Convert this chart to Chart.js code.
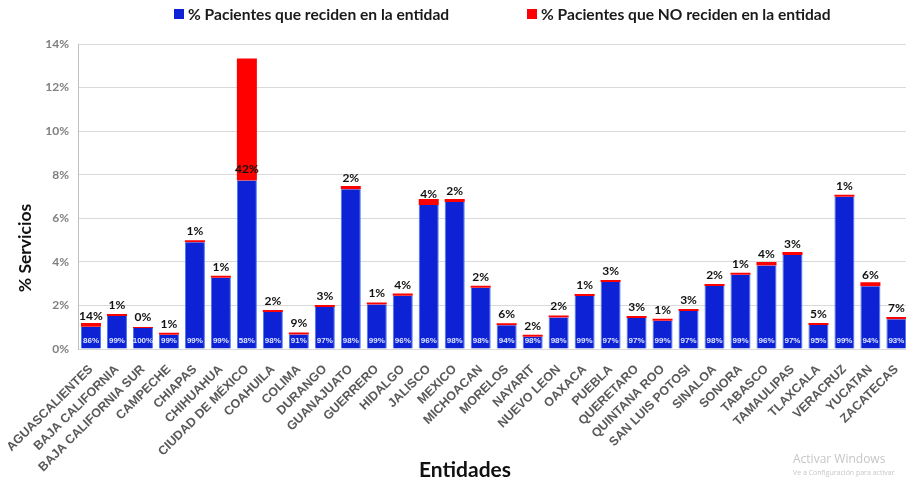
<!DOCTYPE html>
<html>
<head>
<meta charset="utf-8">
<script src="https://cdn.jsdelivr.net/npm/chart.js@4/dist/chart.umd.min.js"></script>
<style>
  html, body { margin: 0; padding: 0; background: #ffffff; overflow: hidden; }
  #wrap { width: 912px; height: 483px; }
</style>
</head>
<body>
<div id="wrap"><canvas id="grafica" width="912" height="483"></canvas></div>
<script>
// Entidades federativas
const entidades = [
  "AGUASCALIENTES", "BAJA CALIFORNIA", "BAJA CALIFORNIA SUR", "CAMPECHE", "CHIAPAS",
  "CHIHUAHUA", "CIUDAD DE MÉXICO", "COAHUILA", "COLIMA", "DURANGO", "GUANAJUATO",
  "GUERRERO", "HIDALGO", "JALISCO", "MEXICO", "MICHOACAN", "MORELOS", "NAYARIT",
  "NUEVO LEON", "OAXACA", "PUEBLA", "QUERETARO", "QUINTANA ROO", "SAN LUIS POTOSI",
  "SINALOA", "SONORA", "TABASCO", "TAMAULIPAS", "TLAXCALA", "VERACRUZ", "YUCATAN", "ZACATECAS"
];

// % de servicios otorgados en cada entidad (altura total de la barra)
const servicios = [
  1.19, 1.53, 0.96, 0.66, 4.95, 3.30, 13.33, 1.73, 0.73, 1.99, 7.48,
  2.06, 2.55, 6.88, 6.88, 2.87, 1.16, 0.57, 1.47, 2.46, 3.17, 1.47,
  1.31, 1.80, 2.95, 3.44, 3.99, 4.45, 1.16, 7.06, 3.06, 1.47
];

// % de pacientes que residen en la entidad
const pctReside = [
  86, 99, 100, 99, 99, 99, 58, 98, 91, 97, 98,
  99, 96, 96, 98, 98, 94, 98, 98, 99, 97, 97,
  99, 97, 98, 99, 96, 97, 95, 99, 94, 93
];

// % de pacientes que NO residen en la entidad
const pctNoReside = [
  14, 1, 0, 1, 1, 1, 42, 2, 9, 3, 2,
  1, 4, 4, 2, 2, 6, 2, 2, 1, 3, 3,
  1, 3, 2, 1, 4, 3, 5, 1, 6, 7
];

// Marcas del eje vertical
const yTicks = [0, 2, 4, 6, 8, 10, 12, 14];

const serieResiden = servicios.map((v, i) => v * pctReside[i] / 100);
const serieNoResiden = servicios.map((v, i) => v * pctNoReside[i] / 100);

const AZUL = '#0c22d4';
const ROJO = '#ff0000';
const FUENTE = 'Lato, "Open Sans", sans-serif';

const leyenda = [
  { texto: '% Pacientes que reciden en la entidad', color: AZUL, x: 174 },
  { texto: '% Pacientes que NO reciden en la entidad', color: ROJO, x: 527 }
];

// Leyenda y títulos de los ejes
const textosPlugin = {
  id: 'textosPlugin',
  afterDraw(chart) {
    const ctx = chart.ctx;
    ctx.save();
    ctx.font = 'bold 15.6px ' + FUENTE;
    ctx.textBaseline = 'middle';
    ctx.textAlign = 'left';
    leyenda.forEach(item => {
      ctx.fillStyle = item.color;
      ctx.fillRect(item.x, 9, 10, 10);
      ctx.fillStyle = '#1a1a1a';
      ctx.fillText(item.texto, item.x + 14, 15);
    });

    ctx.fillStyle = '#111111';
    ctx.textAlign = 'center';
    ctx.font = 'bold 21px ' + FUENTE;
    ctx.fillText('Entidades', 465, 470);

    ctx.translate(25, 248);
    ctx.rotate(-Math.PI / 2);
    ctx.font = 'bold 17.5px ' + FUENTE;
    ctx.fillText('% Servicios', 0, 0);
    ctx.restore();
  }
};

// Etiquetas de porcentaje sobre y dentro de cada barra
const etiquetasPlugin = {
  id: 'etiquetasPlugin',
  afterDatasetsDraw(chart) {
    const ctx = chart.ctx;
    const metaAzul = chart.getDatasetMeta(0);
    const area = chart.chartArea;
    ctx.save();
    ctx.textAlign = 'center';
    ctx.textBaseline = 'middle';
    metaAzul.data.forEach((bar, i) => {
      ctx.font = 'bold 8px "Liberation Sans", Arial, sans-serif';
      ctx.fillStyle = '#dfe6ff';
      ctx.fillText(pctReside[i] + '%', bar.x, area.bottom - 8);
      ctx.font = 'bold 12px ' + FUENTE;
      ctx.fillStyle = '#111111';
      ctx.fillText(pctNoReside[i] + '%', bar.x, bar.y - 11);
    });
    ctx.restore();
  }
};

// Aviso de activación del sistema en la esquina inferior
const avisoPlugin = {
  id: 'avisoPlugin',
  afterDraw(chart) {
    const ctx = chart.ctx;
    ctx.save();
    ctx.textAlign = 'left';
    ctx.textBaseline = 'middle';
    ctx.fillStyle = 'rgba(150,150,150,0.55)';
    ctx.font = '12px "Open Sans", sans-serif';
    ctx.fillText('Activar Windows', 793, 460);
    ctx.font = '7px "Open Sans", sans-serif';
    ctx.fillText('Ve a Configuración para activar', 793, 473);
    ctx.restore();
  }
};

new Chart(document.getElementById('grafica'), {
  type: 'bar',
  data: {
    labels: entidades,
    datasets: [
      {
        label: '% Pacientes que reciden en la entidad',
        data: serieResiden,
        backgroundColor: AZUL,
        borderColor: '#4a78f5',
        borderWidth: { left: 1, right: 1, top: 0, bottom: 0 },
        borderSkipped: false,
        stack: 's'
      },
      {
        label: '% Pacientes que NO reciden en la entidad',
        data: serieNoResiden,
        backgroundColor: ROJO,
        borderWidth: 0,
        minBarLength: 2,
        stack: 's'
      }
    ]
  },
  options: {
    responsive: false,
    animation: false,
    devicePixelRatio: 1,
    layout: { padding: { top: 44, right: 0, bottom: 0, left: 0 } },
    datasets: {
      bar: { categoryPercentage: 1.0, barPercentage: 0.77 }
    },
    plugins: {
      legend: { display: false },
      tooltip: { enabled: false },
      title: { display: false }
    },
    scales: {
      x: {
        stacked: true,
        grid: { display: false },
        border: { display: false },
        ticks: {
          autoSkip: false,
          maxRotation: 45,
          minRotation: 45,
          padding: 5,
          color: '#595959',
          font: { family: '"Liberation Sans", Arial, sans-serif', size: 12.5, weight: 'bold' }
        },
        afterFit(scale) { scale.height = 134; }
      },
      y: {
        stacked: true,
        min: 0,
        max: 14,
        afterBuildTicks(scale) { scale.ticks = yTicks.map(v => ({ value: v })); },
        grid: { color: '#d9d9d9', drawTicks: false },
        border: { display: true, color: '#bfbfbf' },
        ticks: {
          padding: 9,
          color: '#808080',
          font: { family: FUENTE, size: 12, weight: 'bold' },
          callback: v => v + '%'
        },
        afterFit(scale) { scale.width = 78; }
      }
    }
  },
  plugins: [textosPlugin, etiquetasPlugin, avisoPlugin]
});
</script>
</body>
</html>
